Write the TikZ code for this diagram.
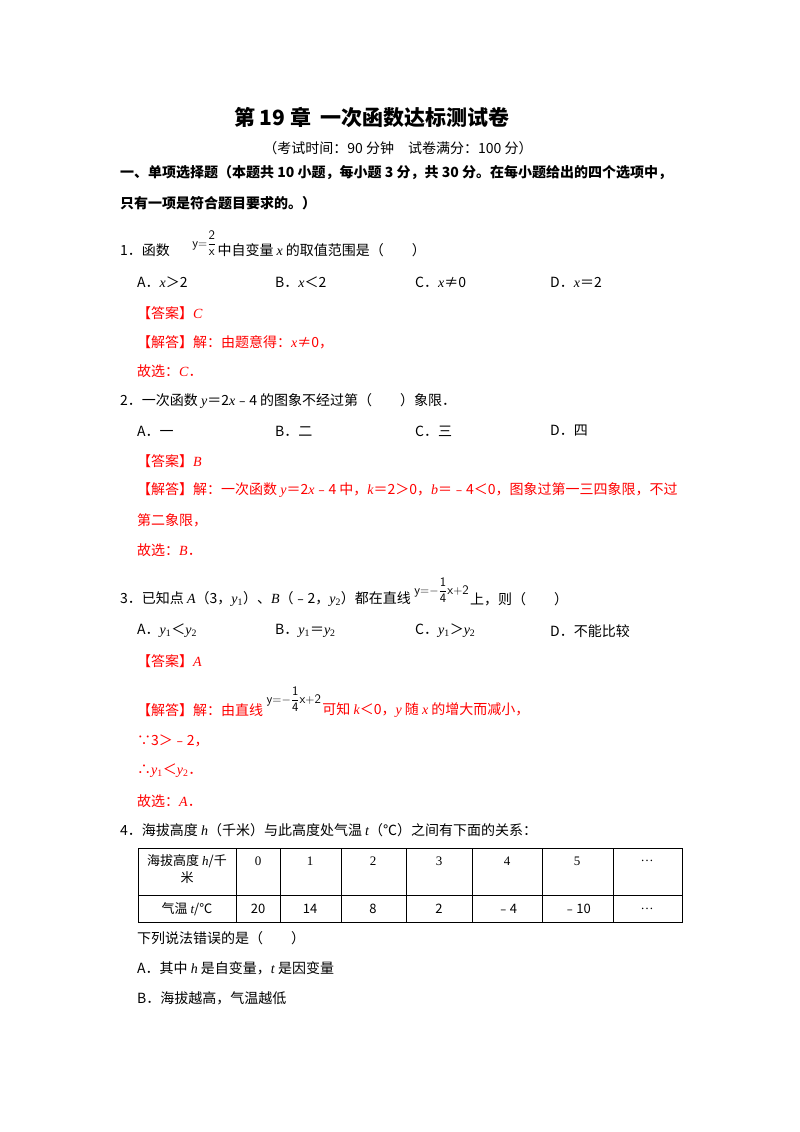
\documentclass[tikz,border=0pt]{standalone}
\usepackage{fontspec}
\setmainfont{Noto Sans CJK SC}
\newfontfamily\lat{Liberation Serif}
\newcommand{\vv}[1]{{\lat\itshape #1}}
\newcommand{\nn}[1]{{\lat #1}}
\begin{document}
\begin{tikzpicture}[x=1pt,y=-1pt,
  txt/.style={anchor=west,inner sep=0,font=\fontsize{14}{16}\selectfont},
  ans/.style={txt,text=red},
  bold/.style={txt,font=\fontsize{14}{16}\selectfont\bfseries},
  frac/.style={inner sep=0,anchor=west,font=\fontsize{13}{14}\selectfont}]
\useasboundingbox[fill=white] (0,0) rectangle (800,1132);
\node[inner sep=0,font=\fontsize{21}{23}\selectfont\bfseries] (title) at (372,118) {第 19 章\ \ 一次函数达标测试卷};
\node[inner sep=0,font=\fontsize{14}{16}\selectfont] (sub) at (398,148) {（考试时间：90 分钟\quad 试卷满分：100 分）};
\node[bold] (h1) at (120,173) {一、单项选择题（本题共 10 小题，每小题 3 分，共 30 分。在每小题给出的四个选项中，};
\node[bold] (h2) at (120,203) {只有一项是符合题目要求的。）};
% Q1
\node[txt] (q1) at (120,250) {1．函数};
\node[frac] (f1) at ([xshift=22]q1.east) [yshift=7] {$\displaystyle\mathsf{y{=}}\frac{\mathsf{2}}{\mathsf{x}}$};
\node[txt] (q1b) at ([xshift=1]f1.east|-q1) {中自变量 \vv{x} 的取值范围是（\qquad ）};
\node[txt] (a1) at (137,282) {A．\vv{x}＞2};
\node[txt] (b1) at (275,282) {B．\vv{x}＜2};
\node[txt] (c1) at (415,282) {C．\vv{x}≠0};
\node[txt] (d1) at (550,282) {D．\vv{x}＝2};
\node[ans] (ans1) at (137,313) {【答案】\vv{C}};
\node[ans] (sol1) at (137,342) {【解答】解：由题意得：\vv{x}≠0，};
\node[ans] (g1) at (137,371) {故选：\vv{C}．};
% Q2
\node[txt] (q2) at (120,401) {2．一次函数 \vv{y}＝2\vv{x}﹣4 的图象不经过第（\qquad ）象限．};
\node[txt] (a2) at (137,431) {A．一};
\node[txt] (b2) at (275,431) {B．二};
\node[txt] (c2) at (415,431) {C．三};
\node[txt] (d2) at (550,431) {D．四};
\node[ans] (ans2) at (137,461) {【答案】\vv{B}};
\node[ans] (sol2) at (137,490) {【解答】解：一次函数 \vv{y}＝2\vv{x}﹣4 中，\vv{k}＝2＞0，\vv{b}＝﹣4＜0，图象过第一三四象限，不过};
\node[ans] (sol2b) at (137,520) {第二象限，};
\node[ans] (g2) at (137,550) {故选：\vv{B}．};
% Q3
\node[txt] (q3) at (120,599) {3．已知点 \vv{A}（3，\vv{y}\nn{\textsubscript{1}}）、\vv{B}（﹣2，\vv{y}\nn{\textsubscript{2}}）都在直线};
\node[frac] (f3) at ([xshift=3]q3.east) [yshift=9] {$\displaystyle\mathsf{y{=}}{-}\frac{\mathsf{1}}{\mathsf{4}}\mathsf{x{+}2}$};
\node[txt] (q3b) at ([xshift=1]f3.east|-q3) {上，则（\qquad ）};
\node[txt] (a3) at (137,631) {A．\vv{y}\nn{\textsubscript{1}}＜\vv{y}\nn{\textsubscript{2}}};
\node[txt] (b3) at (275,631) {B．\vv{y}\nn{\textsubscript{1}}＝\vv{y}\nn{\textsubscript{2}}};
\node[txt] (c3) at (415,631) {C．\vv{y}\nn{\textsubscript{1}}＞\vv{y}\nn{\textsubscript{2}}};
\node[txt] (d3) at (550,631) {D．不能比较};
\node[ans] (ans3) at (137,661) {【答案】\vv{A}};
\node[ans] (sol3) at (137,710) {【解答】解：由直线};
\node[frac] (f3b) at ([xshift=3]sol3.east) [yshift=11] {$\displaystyle\mathsf{y{=}}{-}\frac{\mathsf{1}}{\mathsf{4}}\mathsf{x{+}2}$};
\node[ans] (sol3b) at ([xshift=1]f3b.east|-sol3) {可知 \vv{k}＜0，\vv{y} 随 \vv{x} 的增大而减小，};
\node[ans] (s3c) at (137,741) {∵3＞﹣2，};
\node[ans] (s3d) at (137,771) {∴\vv{y}\nn{\textsubscript{1}}＜\vv{y}\nn{\textsubscript{2}}．};
\node[ans] (g3) at (137,801) {故选：\vv{A}．};
% Q4
\node[txt] (q4) at (120,830) {4．海拔高度 \vv{h}（千米）与此高度处气温 \vv{t}（℃）之间有下面的关系：};
\draw[line width=0.8pt] (138,848) rectangle (682,922);
\draw[line width=0.6pt] (138,895) -- (682,895);
\foreach \x in {236,280,341,406,472,542,613} \draw[line width=0.6pt] (\x,848) -- (\x,922);
\node[inner sep=0,font=\fontsize{13}{17}\selectfont,align=center] (t00) at (187,869) {海拔高度 \vv{h}/千\\米};
\node[inner sep=0,font=\fontsize{13}{15}\selectfont] (t10) at (187,909) {气温 \vv{t}/℃};
\foreach \c/\a/\b [count=\i] in {258/0/20,310/1/14,373/2/8,439/3/2,507/4/﹣4,577/5/﹣10,647/\nn{…}/\nn{…}} {
  \node[inner sep=0,font=\fontsize{13}{15}\selectfont] (ta\i) at (\c,861) {\nn{\a}};
  \node[inner sep=0,font=\fontsize{13}{15}\selectfont] (tb\i) at (\c,909) {\b};
}
\node[txt] (q4a) at (137,938) {下列说法错误的是（\qquad ）};
\node[txt] (q4b) at (137,968) {A．其中 \vv{h} 是自变量，\vv{t} 是因变量};
\node[txt] (q4c) at (137,998) {B．海拔越高，气温越低};
\end{tikzpicture}
\end{document}
